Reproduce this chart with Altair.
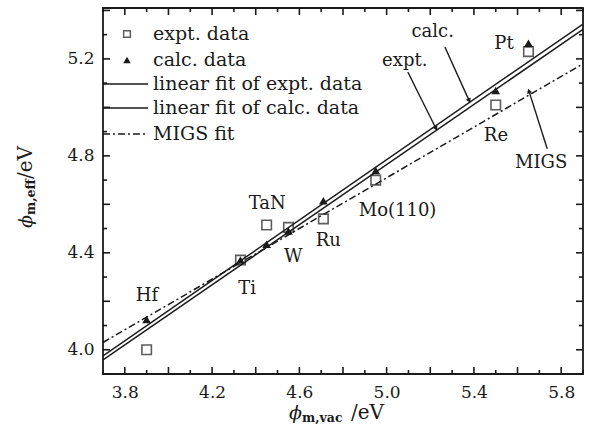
import altair as alt
import pandas as pd

# ---------------- data ----------------
metals = ["Hf", "Ti", "TaN", "W", "Ru", "Mo(110)", "Re", "Pt"]
phi_vac = [3.90, 4.33, 4.45, 4.55, 4.71, 4.95, 5.50, 5.65]
phi_expt = [4.00, 4.37, 4.515, 4.505, 4.54, 4.70, 5.01, 5.23]
phi_calc = [4.125, 4.37, 4.435, 4.49, 4.615, 4.74, 5.07, 5.265]

fit_x = [3.70, 5.90]
fit_expt_y = [3.958, 5.322]
fit_calc_y = [3.975, 5.344]
fit_migs_y = [4.030, 5.180]

# metal label positions (data coords)
lab_x = [3.901, 4.361, 4.453, 4.572, 4.733, 5.05, 5.501, 5.538]
lab_y = [4.223, 4.252, 4.602, 4.384, 4.449, 4.573, 4.882, 5.262]

# annotation arrows
ann_text = ["calc.", "expt.", "MIGS"]
ann_tx = [5.211, 5.083, 5.708]
ann_ty = [5.311, 5.192, 4.771]
arr_x0 = [5.267, 5.097, 5.736]
arr_y0 = [5.249, 5.146, 4.829]
arr_x1 = [5.377, 5.225, 5.653]
arr_y1 = [5.030, 4.915, 5.065]
arr_angle = [155, 152, 341]

legend_labels = ["expt. data", "calc. data", "linear fit of expt. data",
                 "linear fit of calc. data", "MIGS fit"]

x_ticks_major = [3.8, 4.0, 4.2, 4.4, 4.6, 4.8, 5.0, 5.2, 5.4, 5.6, 5.8]
x_ticks_minor = [3.7, 3.9, 4.1, 4.3, 4.5, 4.7, 4.9, 5.1, 5.3, 5.5, 5.7, 5.9]
y_ticks_major = [4.0, 4.2, 4.4, 4.6, 4.8, 5.0, 5.2, 5.4]
y_ticks_minor = [3.9, 4.1, 4.3, 4.5, 4.7, 4.9, 5.1, 5.3]
x_labels = [3.8, 4.2, 4.6, 5.0, 5.4, 5.8]
y_labels = [4.0, 4.4, 4.8, 5.2]

# ---------------- setup ----------------
W, H = 480, 366
FONT = "DejaVu Serif"
INK = "#1a1a1a"
xdom = [3.7, 5.9]
ydom = [3.9, 5.41]
kx = W / (xdom[1] - xdom[0])   # px per data unit
ky = H / (ydom[1] - ydom[0])

xs = alt.Scale(domain=xdom, nice=False, zero=False)
ys = alt.Scale(domain=ydom, nice=False, zero=False)
xax = alt.Axis(values=x_labels, format=".1f", ticks=False, domain=False, grid=False,
               labelFont=FONT, labelFontSize=17, labelColor=INK, labelPadding=10, title=None)
yax = alt.Axis(values=y_labels, format=".1f", ticks=False, domain=False, grid=False,
               labelFont=FONT, labelFontSize=17, labelColor=INK, labelPadding=9, title=None)

pts = pd.DataFrame({"metal": metals, "vac": phi_vac, "expt": phi_expt, "calc": phi_calc})
fits = pd.DataFrame({"x": fit_x, "e": fit_expt_y, "c": fit_calc_y, "m": fit_migs_y})
labs = pd.DataFrame({"t": metals, "x": lab_x, "y": lab_y})
anns = pd.DataFrame({"t": ann_text, "tx": ann_tx, "ty": ann_ty, "x0": arr_x0, "y0": arr_y0,
                     "x1": arr_x1, "y1": arr_y1, "ang": arr_angle})

base_axes = alt.Chart(pts).mark_point(opacity=0).encode(
    x=alt.X("vac:Q", scale=xs, axis=xax),
    y=alt.Y("expt:Q", scale=ys, axis=yax),
)

# ---- inward ticks on all four sides, drawn as rules through the scales ----
def tick_rows(xvals, yvals, ln):
    rows = []
    dy, dx = ln / ky, ln / kx
    for v in xvals:
        rows.append({"tx0": v, "ty0": ydom[0], "tx1": v, "ty1": ydom[0] + dy})
        rows.append({"tx0": v, "ty0": ydom[1], "tx1": v, "ty1": ydom[1] - dy})
    for v in yvals:
        rows.append({"tx0": xdom[0], "ty0": v, "tx1": xdom[0] + dx, "ty1": v})
        rows.append({"tx0": xdom[1], "ty0": v, "tx1": xdom[1] - dx, "ty1": v})
    return rows

tick_df = pd.DataFrame(tick_rows(x_ticks_major, y_ticks_major, 7) +
                       tick_rows(x_ticks_minor, y_ticks_minor, 4))
ticks = alt.Chart(tick_df).mark_rule(color=INK, strokeWidth=1.6, opacity=1).encode(
    x=alt.X("tx0:Q", scale=xs), y=alt.Y("ty0:Q", scale=ys), x2="tx1:Q", y2="ty1:Q")

# ---- data layers ----
line_e = alt.Chart(fits).mark_line(color=INK, strokeWidth=1.5, clip=True).encode(
    x=alt.X("x:Q", scale=xs), y=alt.Y("e:Q", scale=ys))
line_c = alt.Chart(fits).mark_line(color=INK, strokeWidth=1.5, clip=True).encode(
    x=alt.X("x:Q", scale=xs), y=alt.Y("c:Q", scale=ys))
line_m = alt.Chart(fits).mark_line(color=INK, strokeWidth=1.5, strokeDash=[7, 3, 2, 3], clip=True).encode(
    x=alt.X("x:Q", scale=xs), y=alt.Y("m:Q", scale=ys))

sq = alt.Chart(pts).mark_point(shape="square", filled=False, color=INK, size=90, strokeWidth=1.6).encode(
    x=alt.X("vac:Q", scale=xs), y=alt.Y("expt:Q", scale=ys))
tri = alt.Chart(pts).mark_point(shape="triangle-up", filled=True, color=INK, size=75, opacity=1).encode(
    x=alt.X("vac:Q", scale=xs), y=alt.Y("calc:Q", scale=ys))

metal_txt = alt.Chart(labs).mark_text(font=FONT, fontSize=18, color=INK).encode(
    x=alt.X("x:Q", scale=xs), y=alt.Y("y:Q", scale=ys), text="t:N")

ann_txt = alt.Chart(anns).mark_text(font=FONT, fontSize=18, color=INK).encode(
    x=alt.X("tx:Q", scale=xs), y=alt.Y("ty:Q", scale=ys), text="t:N")
ann_rule = alt.Chart(anns).mark_rule(color=INK, strokeWidth=1.4).encode(
    x=alt.X("x0:Q", scale=xs), y=alt.Y("y0:Q", scale=ys), x2="x1:Q", y2="y1:Q")
ann_head = alt.Chart(anns).mark_point(shape="triangle", filled=True, color=INK, size=28, opacity=1).encode(
    x=alt.X("x1:Q", scale=xs), y=alt.Y("y1:Q", scale=ys), angle=alt.Angle("ang:Q", scale=None))

# ---- legend (manual) ----
one = pd.DataFrame({"a": [0]})
leg_rows = [26, 52, 76, 100, 126]
leg_txt = [alt.Chart(one).mark_text(text=s, font=FONT, fontSize=19, color=INK, align="left",
                                    baseline="middle").encode(x=alt.value(50), y=alt.value(r))
           for s, r in zip(legend_labels, leg_rows)]
leg_sq = alt.Chart(one).mark_point(shape="square", filled=False, color=INK,
                                   size=45, strokeWidth=1.5).encode(
    x=alt.value(24), y=alt.value(leg_rows[0]))
leg_tri = alt.Chart(one).mark_point(shape="triangle-up", filled=True, color=INK,
                                    size=55, opacity=1).encode(
    x=alt.value(24), y=alt.value(leg_rows[1]))
leg_l1 = alt.Chart(one).mark_rule(color=INK, strokeWidth=1.5).encode(
    x=alt.value(0), x2=alt.value(45), y=alt.value(leg_rows[2]))
leg_l2 = alt.Chart(one).mark_rule(color=INK, strokeWidth=1.5).encode(
    x=alt.value(0), x2=alt.value(45), y=alt.value(leg_rows[3]))
leg_l3 = alt.Chart(one).mark_rule(color=INK, strokeWidth=1.5, strokeDash=[7, 3, 2, 3]).encode(
    x=alt.value(0), x2=alt.value(45), y=alt.value(leg_rows[4]))

# ---- axis titles (text with subscripts) ----
def txt(s, x, y, size, style="normal", weight="normal", angle=0):
    return alt.Chart(one).mark_text(text=s, font=FONT, fontSize=size, fontStyle=style,
                                    fontWeight=weight, color=INK, align="left",
                                    baseline="alphabetic", angle=angle).encode(
        x=alt.value(x), y=alt.value(y))

titles = [
    txt("ϕ", 186, 411, 19, style="italic"),
    txt("m,vac", 199, 414, 12.5, weight="bold"),
    txt("/eV", 248, 411, 20),
    txt("ϕ", -71, 220, 19, style="italic", angle=270),
    txt("m,eff", -68, 207, 12.5, weight="bold", angle=270),
    txt("/eV", -71, 171, 20, angle=270),
]

chart = alt.layer(
    base_axes, ticks, line_e, line_c, line_m, sq, tri, metal_txt, ann_rule, ann_head, ann_txt,
    *leg_txt, leg_sq, leg_tri, leg_l1, leg_l2, leg_l3, *titles,
).properties(
    width=W, height=H,
    padding={"left": 103, "top": 8, "right": 16, "bottom": 58},
    autosize=alt.AutoSizeParams(type="none"),
    background="white",
).configure_view(stroke=INK, strokeWidth=1.8)

chart.save("out.html", embed_options={"renderer": "svg", "actions": False})
